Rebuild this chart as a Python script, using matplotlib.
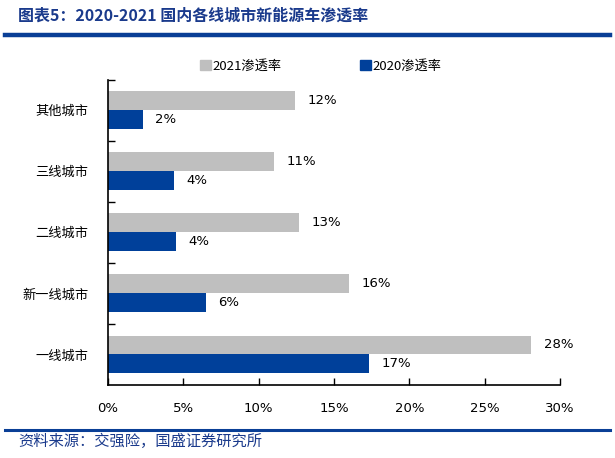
import matplotlib.pyplot as plt
from matplotlib.lines import Line2D
from matplotlib.patches import Patch

plt.rcParams['font.family'] = ['Noto Sans CJK SC', 'DejaVu Sans']

# data (bottom -> top)
cities = ['一线城市', '新一线城市', '二线城市', '三线城市', '其他城市']
rate_2021 = [28.1, 16.0, 12.7, 11.0, 12.4]
rate_2020 = [17.3, 6.5, 4.5, 4.4, 2.3]
labels_2021 = ['28%', '16%', '13%', '11%', '12%']
labels_2020 = ['17%', '6%', '4%', '4%', '2%']
xticks = [0, 5, 10, 15, 20, 25, 30]

gray = '#BFBFBF'
blue = '#00409A'
title_blue = '#1A3A8C'

fig = plt.figure(figsize=(6.15, 4.58), dpi=100)
ax = fig.add_axes([0.1756, 0.1594, 0.7350, 0.6670])

h = 0.31
ypos = list(range(len(cities)))
ax.barh([y + h / 2 for y in ypos], rate_2021, height=h, color=gray, label='2021渗透率')
ax.barh([y - h / 2 for y in ypos], rate_2020, height=h, color=blue, label='2020渗透率')

for y, v, s in zip(ypos, rate_2021, labels_2021):
    ax.annotate(s, (v, y + h / 2), xytext=(9, 0), textcoords='offset points',
                ha='left', va='center', fontsize=9.5, family='DejaVu Sans')
for y, v, s in zip(ypos, rate_2020, labels_2020):
    ax.annotate(s, (v, y - h / 2), xytext=(9, 0), textcoords='offset points',
                ha='left', va='center', fontsize=9.5, family='DejaVu Sans')

ax.set_xlim(0, 30)
ax.set_ylim(-0.5, len(cities) - 0.5)
ax.set_xticks(xticks)
ax.set_xticklabels([f'{t}%' for t in xticks], fontsize=9.5, family='DejaVu Sans')
ax.set_yticks(ypos)
ax.set_yticklabels(cities, fontsize=9.5)
ax.set_yticks([y + 0.5 for y in ypos], minor=True)
ax.tick_params(axis='y', which='major', length=0, pad=14)
ax.tick_params(axis='y', which='minor', length=5, direction='in', width=1)
ax.tick_params(axis='x', length=5, direction='in', width=1, pad=12)
for side in ['top', 'right']:
    ax.spines[side].set_visible(False)
for side in ['left', 'bottom']:
    ax.spines[side].set_linewidth(1.2)

handles = [Patch(color=gray, label='2021渗透率'), Patch(color=blue, label='2020渗透率')]
fig.legend(handles=handles, loc='center', bbox_to_anchor=(0.522, 0.856), ncol=2,
           frameon=False, fontsize=9.5, handlelength=0.8, handleheight=0.8,
           handletextpad=0.15, columnspacing=5.95)

# header / footer
fig.text(0.03, 0.966, '图表5：2020-2021 国内各线城市新能源车渗透率', fontsize=11.5,
         fontweight='bold', color=title_blue, va='center', ha='left')
fig.add_artist(Line2D([0.008, 0.992], [0.923, 0.923], color='#0A3F96', linewidth=3.2,
                      transform=fig.transFigure))
fig.add_artist(Line2D([0.008, 0.992], [0.061, 0.061], color='#0A3F96', linewidth=2.2,
                      transform=fig.transFigure))
fig.text(0.03, 0.036, '资料来源：交强险，国盛证券研究所', fontsize=11,
         color=title_blue, va='center', ha='left')

fig.savefig('out.png', dpi=100)
